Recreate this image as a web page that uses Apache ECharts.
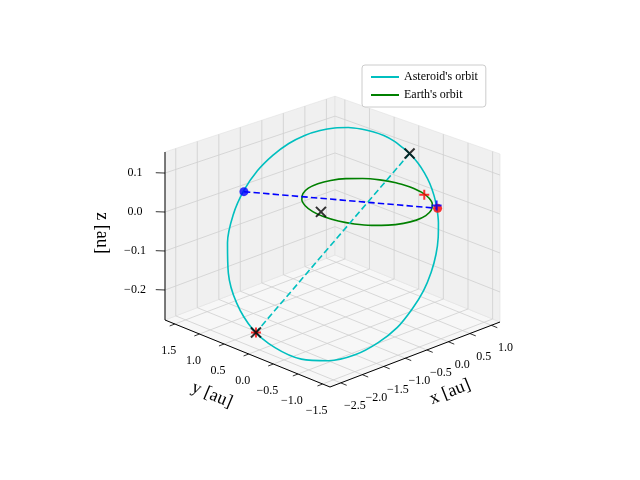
<!DOCTYPE html>
<html>
<head>
<meta charset="utf-8">
<script src="https://cdn.jsdelivr.net/npm/echarts@6/dist/echarts.min.js"></script>
<style>html,body{margin:0;padding:0;background:#fff}#main{width:640px;height:480px}</style>
</head>
<body>
<div id="main"></div>
<script>
// tick labels
var xTicks = [-2.5, -2.0, -1.5, -1.0, -0.5, 0.0, 0.5, 1.0];
var yTicks = [-1.5, -1.0, -0.5, 0.0, 0.5, 1.0, 1.5];
var zTicks = [-0.2, -0.1, 0.0, 0.1];
// asteroid orbit points [x, y, z] in au
var asteroidOrbit = [
  [0.631, -0.867, 0], [0.738, -0.713, 0.022], [0.822, -0.555, 0.042], [0.881, -0.394, 0.060],
  [0.921, -0.231, 0.076], [0.939, -0.068, 0.090], [0.938, 0.097, 0.101], [0.919, 0.263, 0.112],
  [0.878, 0.428, 0.120], [0.813, 0.592, 0.125], [0.726, 0.756, 0.128], [0.613, 0.916, 0.129],
  [0.470, 1.070, 0.126], [0.297, 1.214, 0.119], [0.088, 1.344, 0.108], [-0.159, 1.451, 0.091],
  [-0.445, 1.526, 0.067], [-0.764, 1.560, 0.037], [-1.115, 1.530, 0], [-1.479, 1.427, -0.044],
  [-1.829, 1.236, -0.093], [-2.133, 0.953, -0.145], [-2.356, 0.591, -0.194], [-2.458, 0.178, -0.235],
  [-2.426, -0.250, -0.262], [-2.271, -0.650, -0.277], [-2.014, -0.981, -0.275], [-1.692, -1.234, -0.261],
  [-1.339, -1.395, -0.237], [-0.989, -1.479, -0.209], [-0.656, -1.492, -0.175], [-0.356, -1.458, -0.143],
  [-0.090, -1.380, -0.111], [0.140, -1.276, -0.080], [0.335, -1.151, -0.050], [0.497, -1.014, -0.025],
  [0.631, -0.867, 0]
];
// earth orbit points
var earthOrbit = [
  [1, 0, 0], [0.966, 0.259, 0], [0.866, 0.5, 0], [0.707, 0.707, 0], [0.5, 0.866, 0], [0.259, 0.966, 0],
  [0, 1, 0], [-0.259, 0.966, 0], [-0.5, 0.866, 0], [-0.707, 0.707, 0], [-0.866, 0.5, 0], [-0.966, 0.259, 0],
  [-1, 0, 0], [-0.966, -0.259, 0], [-0.866, -0.5, 0], [-0.707, -0.707, 0], [-0.5, -0.866, 0], [-0.259, -0.966, 0],
  [0, -1, 0], [0.259, -0.966, 0], [0.5, -0.866, 0], [0.707, -0.707, 0], [0.866, -0.5, 0], [0.966, -0.259, 0], [1, 0, 0]
];
var nodeBlue = [-1.145, 1.5, 0];
var nodeRed = [0.637, -0.875, 0];
var apsides = [[0.941, -0.040, 0.092], [-2.463, 0.104, -0.240]];
var blackX = [[0.941, -0.040, 0.092], [-0.875, 0.172, 0], [-2.463, 0.104, -0.240]];
var redPlus = [[0.919, -0.358, 0], [-2.463, 0.104, -0.240]];
var bluePlus = [[0.713, -0.788, 0]];

var X0 = -2.75, X1 = 1.2, Y0 = -1.65, Y1 = 1.7, Z0 = -0.277, Z1 = 0.154;
function P(x, y, z) {
    var fx = (x - X0) / (X1 - X0), fy = (y - Y0) / (Y1 - Y0), fz = (z - Z0) / (Z1 - Z0);
    var h = 168 * (1 - 0.055 * (fx + fy - 1));
    return [330 + 170 * fx - 165 * fy, 387 - 65 * fx - 67 * fy - h * fz];
}
function P3(p) { return P(p[0], p[1], p[2]); }

var chart = echarts.init(document.getElementById('main'));
var series = [];
var panes = [
    { pts: [[X0, Y0, Z0], [X1, Y0, Z0], [X1, Y1, Z0], [X0, Y1, Z0]], fill: '#f7f7f7' },
    { pts: [[X0, Y1, Z0], [X1, Y1, Z0], [X1, Y1, Z1], [X0, Y1, Z1]], fill: '#f0f0f0' },
    { pts: [[X1, Y0, Z0], [X1, Y1, Z0], [X1, Y1, Z1], [X1, Y0, Z1]], fill: '#f0f0f0' }
];
series.push({
    type: 'custom', silent: true, z: 0,
    data: [[0, 0], [1, 0], [2, 0]],
    renderItem: function (params, api) {
        var pn = panes[params.dataIndex];
        return { type: 'polygon', shape: { points: pn.pts.map(function (p) { return api.coord(P3(p)); }) },
                 style: { fill: pn.fill, stroke: '#e0e0e0', lineWidth: 0.6 } };
    }
});
function seg(a, b, color, w, type) {
    series.push({ type: 'line', data: [P3(a), P3(b)], symbol: 'none', silent: true,
        lineStyle: { color: color, width: w, type: type || 'solid' }, z: 1 });
}
// grid lines
xTicks.forEach(function (x) {
    seg([x, Y0, Z0], [x, Y1, Z0], '#cfcfcf', 0.8);
    seg([x, Y1, Z0], [x, Y1, Z1], '#cfcfcf', 0.8);
});
yTicks.forEach(function (y) {
    seg([X0, y, Z0], [X1, y, Z0], '#cfcfcf', 0.8);
    seg([X1, y, Z0], [X1, y, Z1], '#cfcfcf', 0.8);
});
zTicks.forEach(function (z) {
    seg([X0, Y1, z], [X1, Y1, z], '#cfcfcf', 0.8);
    seg([X1, Y1, z], [X1, Y0, z], '#cfcfcf', 0.8);
});
// axis lines
seg([X0, Y0, Z0], [X1, Y0, Z0], '#000', 1);
seg([X0, Y0, Z0], [X0, Y1, Z0], '#000', 1);
seg([X0, Y1, Z0], [X0, Y1, Z1], '#000', 1);

function line(name, pts, color, type, smooth) {
    series.push({ name: name, type: 'line', data: pts.map(P3), symbol: 'none', smooth: smooth || false,
        lineStyle: { color: color, width: 1.6, type: type || 'solid' }, itemStyle: { color: color }, z: 3 });
}
line("Asteroid's orbit", asteroidOrbit, '#00bfbf', 'solid', 0.3);
line("Earth's orbit", earthOrbit, 'green', 'solid', 0.3);
line(null, [nodeBlue, nodeRed], 'blue', 'dashed');
line(null, apsides, '#00bfbf', 'dashed');

function marks(pts, symbol, color, size, stroke) {
    series.push({ type: 'scatter', data: pts.map(P3), symbol: symbol, symbolSize: size, z: 5,
        itemStyle: stroke ? { color: 'none', borderColor: color, borderWidth: 2 } : { color: color } });
}
var plusPath = 'path://M5,0L5,10M0,5L10,5';
var xPath = 'path://M0,0L10,10M10,0L0,10';
marks([nodeBlue], 'circle', 'blue', 9);
marks([nodeRed], 'circle', 'red', 9);
marks(bluePlus, plusPath, 'blue', 10, true);
marks(redPlus, plusPath, 'red', 10, true);
marks(blackX, xPath, '#000', 10, true);

var graphic = [];
var font = '"Liberation Serif", "DejaVu Serif", serif';
function txt(s, pos, size, rot, align) {
    graphic.push({ type: 'text', x: pos[0], y: pos[1], rotation: rot || 0,
        style: { text: s, font: size + 'px ' + font, fill: '#000', align: align || 'center', verticalAlign: 'middle' } });
}
function lab(v) { return (v < 0 ? '\u2212' : '') + Math.abs(v).toFixed(1); }
xTicks.forEach(function (x) {
    var p = P(x, Y0, Z0); seg([x, Y0, Z0], [x, Y0 - 0.12, Z0], '#000', 0.8);
    txt(lab(x), [p[0] + 14, p[1] + 23], 12);
});
yTicks.forEach(function (y) {
    var p = P(X0, y, Z0); seg([X0, y, Z0], [X0 - 0.12, y, Z0], '#000', 0.8);
    txt(lab(y), [p[0] - 6, p[1] + 27], 12);
});
zTicks.forEach(function (z) {
    var p = P(X0, Y1, z); seg([X0, Y1, z], [X0 - 0.1, Y1 + 0.1, z], '#000', 0.8);
    txt(lab(z), [p[0] - 30, p[1]], 12);
});
txt('x [au]', [450, 392], 18, 0.38);
txt('y [au]', [212, 395], 18, -0.4);
txt('z [au]', [102, 233], 18, -Math.PI / 2);

chart.setOption({
    animation: false,
    grid: { left: 0, right: 0, top: 0, bottom: 0 },
    xAxis: { type: 'value', min: 0, max: 640, show: false },
    yAxis: { type: 'value', min: 0, max: 480, inverse: true, show: false },
    legend: {
        data: ["Asteroid's orbit", "Earth's orbit"], orient: 'vertical', left: 362, top: 65,
        itemWidth: 28, itemHeight: 2, itemGap: 6, padding: [6, 8],
        borderColor: '#ccc', borderWidth: 1, borderRadius: 3, backgroundColor: '#fff',
        textStyle: { fontFamily: font, fontSize: 12, color: '#000' }
    },
    graphic: graphic,
    series: series
});
</script>
</body>
</html>
